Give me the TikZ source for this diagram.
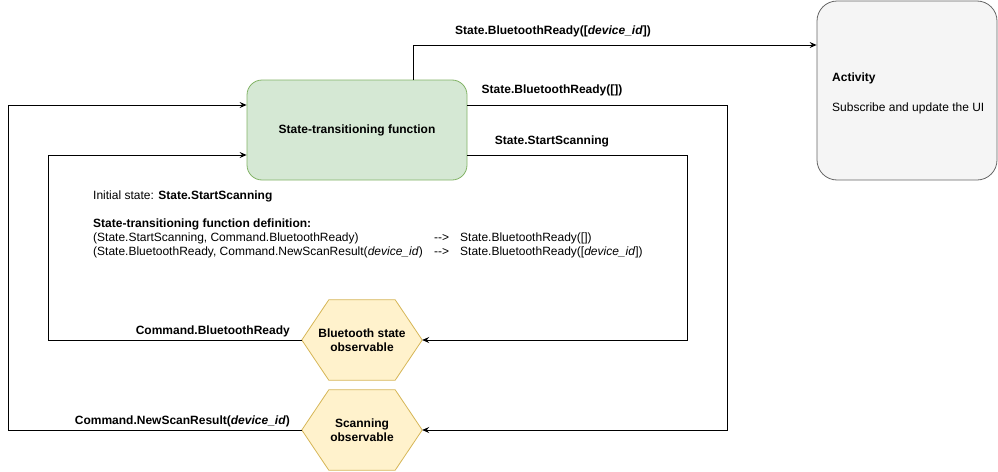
\documentclass[tikz,border=0pt]{standalone}
\usepackage{fontspec}
\setmainfont{Liberation Sans}
\usetikzlibrary{arrows.meta,calc}
\definecolor{gfill}{HTML}{D5E8D4}
\definecolor{gline}{HTML}{82B366}
\definecolor{yfill}{HTML}{FFF2CC}
\definecolor{yline}{HTML}{D6B656}
\definecolor{afill}{HTML}{F5F5F5}
\definecolor{aline}{HTML}{666666}
\tikzset{
  conn/.style={line width=0.9pt,-{Stealth[length=7pt,width=6pt,inset=2.5pt]}},
  lbl/.style={font=\fontsize{12}{14}\selectfont\bfseries,inner sep=0pt},
  txt/.style={font=\fontsize{12}{14}\selectfont,inner sep=0pt},
  hexbox/.style={minimum width=120pt,minimum height=80pt,inner sep=0pt,align=center,font=\fontsize{12}{14}\selectfont\bfseries},
  hexline/.style={fill=yfill,draw=yline,line width=0.8pt}
}
\begin{document}
\begin{tikzpicture}[x=1pt,y=-1pt]
\useasboundingbox (0,0) rectangle (998,471);
% boxes
\node[draw=gline,fill=gfill,line width=0.8pt,rounded corners=15pt,minimum width=220pt,minimum height=100pt,font=\fontsize{12}{14}\selectfont\bfseries] (stf) at (357,130) {State-transitioning function};
\node[draw=aline,fill=afill,line width=0.8pt,rounded corners=20pt,minimum width=180pt,minimum height=179pt] (act) at (907,90.5) {};
\node[txt,anchor=base west] (acttitle) at (832,81) {\bfseries Activity};
\node[txt,anchor=base west] (actsub) at (832,111) {Subscribe and update the UI};
% hexagons
\node[hexbox] (bt) at (362,340) {Bluetooth state\\observable};
\node[hexbox] (sc) at (362,430) {Scanning\\observable};
\begin{scope}[on background layer/.try]
\end{scope}
\foreach \h in {bt,sc}{
  \path[hexline] (\h.west) -- ($(\h.north west)+(27,0)$) -- ($(\h.north east)+(-27,0)$) -- (\h.east) -- ($(\h.south east)+(-27,0)$) -- ($(\h.south west)+(27,0)$) -- cycle;
}
\node[hexbox] at (bt) {Bluetooth state\\observable};
\node[hexbox] at (sc) {Scanning\\observable};
% coordinates
\coordinate (topstart) at (413,80);
\coordinate (r1) at (stf.east |- 0,105);
\coordinate (r2) at (stf.east |- 0,155);
\coordinate (l1) at (stf.west |- 0,105);
\coordinate (l2) at (stf.west |- 0,155);
% connectors
\draw[conn] (topstart) -- (413,45) -- (act.west |- 0,45);
\draw[conn] (r1) -- (727,105) -- (727,430) -- (sc.east);
\draw[conn] (r2) -- (687,155) -- (687,340) -- (bt.east);
\draw[conn] (bt.west) -- (48,340) -- (48,155) -- (l2);
\draw[conn] (sc.west) -- (8,430) -- (8,105) -- (l1);
% labels
\node[lbl] (la) at (553,31) {State.BluetoothReady([\textit{device\_id}])};
\node[lbl] (lb) at (552,90) {State.BluetoothReady([])};
\node[lbl] (lc) at (552,141) {State.StartScanning};
\node[lbl,anchor=east] (ld) at (290,331) {Command.BluetoothReady};
\node[lbl,anchor=east] (le) at (290,421) {Command.NewScanResult(\textit{device\_id})};
% definition text
\node[txt,anchor=north west,align=left] (defs) at (93,191) {%
Initial state: \textbf{State.StartScanning}\\[14pt]
\textbf{State-transitioning function definition:}\\
\makebox[341pt][l]{(State.StartScanning, Command.BluetoothReady)}-{}->\hspace{11pt}State.BluetoothReady([])\\
\makebox[341pt][l]{(State.BluetoothReady, Command.NewScanResult(\textit{device\_id})}-{}->\hspace{11pt}State.BluetoothReady([\textit{device\_id}])};
\end{tikzpicture}
\end{document}
